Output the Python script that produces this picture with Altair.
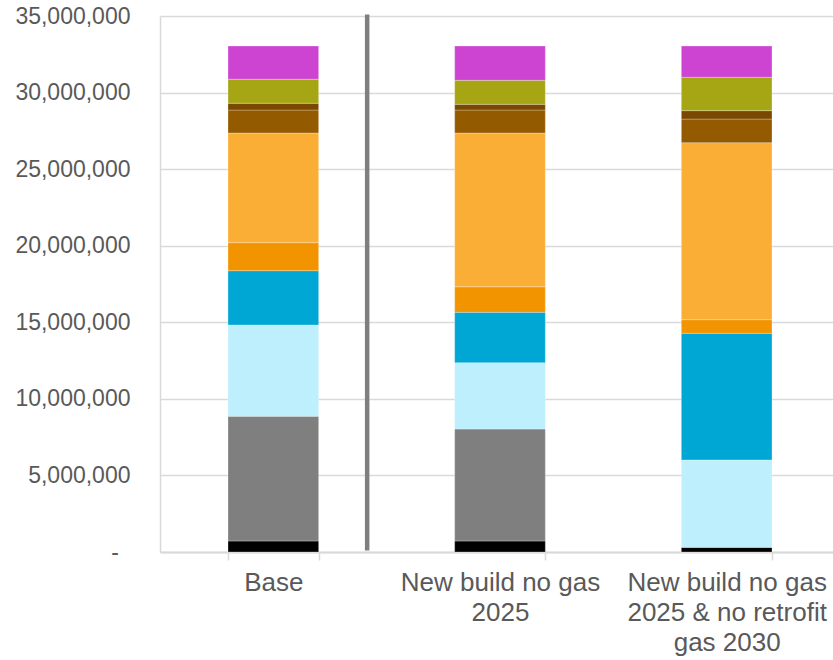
import altair as alt
import pandas as pd

# Scenarios ("|" marks a line break in the axis label)
scenarios = [
    "Base",
    "New build no gas|2025",
    "New build no gas|2025 & no retrofit|gas 2030",
]

# Stack components, bottom to top
series = ["S1", "S2", "S3", "S4", "S5", "S6", "S7", "S8", "S9", "S10"]
colors = ["#000000", "#7f7f7f", "#bdeffc", "#00a7d4", "#f29400",
          "#fbae35", "#945a00", "#7a4800", "#a6a614", "#cc44d1"]

# Values per scenario (same order as series)
base_vals = [720000, 8140000, 5960000, 3550000, 1830000, 7160000, 1500000, 440000, 1570000, 2170000]
nb2025_vals = [720000, 7310000, 4330000, 3290000, 1670000, 10040000, 1500000, 370000, 1570000, 2240000]
nb_retro_vals = [310000, 0, 5700000, 8270000, 890000, 11560000, 1540000, 550000, 2180000, 2040000]

y_ticks = [0, 5000000, 10000000, 15000000, 20000000, 25000000, 30000000, 35000000]

rows = []
for scen, vals in zip(scenarios, [base_vals, nb2025_vals, nb_retro_vals]):
    for i, (s, v) in enumerate(zip(series, vals)):
        rows.append({"scenario": scen, "series": s, "idx": i, "value": v})
df = pd.DataFrame(rows)

sep_df = pd.DataFrame([{"scenario": scenarios[0], "top": 35100000, "bottom": 100000}])

x_scale = alt.Scale(domain=scenarios, paddingInner=0.6, paddingOuter=0.3, range=[0, 680])
y_scale = alt.Scale(domain=[0, 35000000], nice=False)

bars = alt.Chart(df).mark_bar(stroke="white", strokeWidth=0.8, strokeOpacity=0.35).encode(
    x=alt.X("scenario:N", sort=scenarios, scale=x_scale, title=None,
            axis=alt.Axis(labelAngle=0, labelExpr="split(datum.label, '|')",
                          labelFont="Liberation Sans", labelFontSize=26, labelColor="#595959",
                          labelLineHeight=30, labelLimit=0, labelPadding=9,
                          domainColor="#d9d9d9", domainWidth=2,
                          ticks=True, tickBand="extent", tickColor="#d9d9d9", tickSize=8, tickWidth=1.5,
                          grid=False)),
    y=alt.Y("value:Q", stack="zero", scale=y_scale, title=None,
            axis=alt.Axis(values=y_ticks,
                          labelExpr="datum.value == 0 ? '-\u2002\u200b' : format(datum.value, ',')",
                          labelFont="Liberation Sans", labelFontSize=23, labelColor="#595959",
                          labelPadding=30, ticks=False,
                          domainColor="#d9d9d9", domainWidth=1.5,
                          grid=True, gridColor="#d9d9d9", gridWidth=1.5)),
    color=alt.Color("series:N", scale=alt.Scale(domain=series, range=colors), legend=None),
    order=alt.Order("idx:Q", sort="ascending"),
)

separator = alt.Chart(sep_df).mark_rule(color="#7f7f7f", strokeWidth=4.5, xOffset=48.5).encode(
    x=alt.X("scenario:N", scale=x_scale, bandPosition=1),
    y=alt.Y("top:Q", scale=y_scale),
    y2="bottom:Q",
)

chart = alt.layer(bars, separator).properties(
    width=673, height=536,
    autosize=alt.AutoSizeParams(type="none"),
    padding={"left": 160, "top": 16, "right": 0, "bottom": 108},
    background="white",
).configure_view(stroke=None)

chart.save("out.html", embed_options={"renderer": "svg", "actions": False})
